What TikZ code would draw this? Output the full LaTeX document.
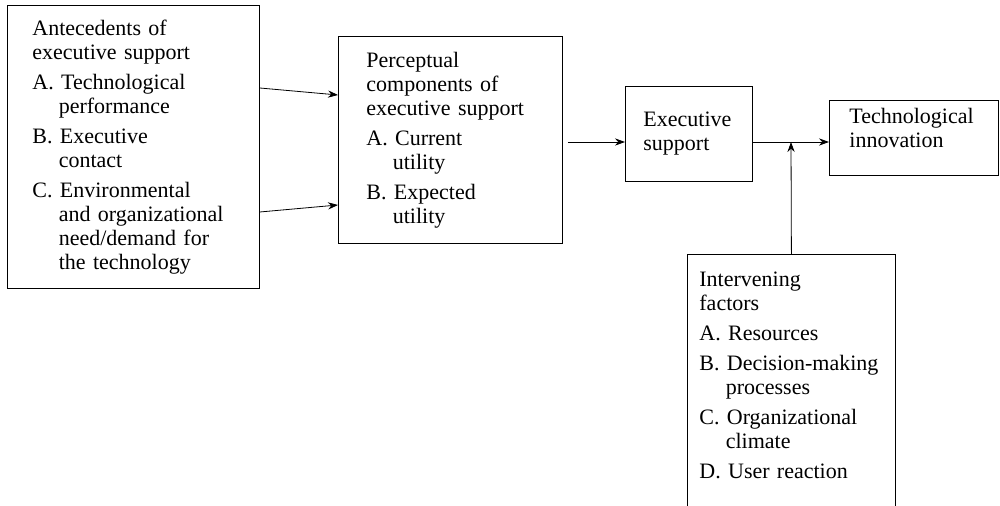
\documentclass[tikz,border=0pt]{standalone}
\usepackage{fontspec}
\setmainfont{Liberation Serif}
\usetikzlibrary{arrows.meta}

\newcommand{\ind}{\hspace*{1.2em}}

\begin{document}
\begin{tikzpicture}[
  x=0.5pt, y=-0.5pt,
  >={Stealth[length=5pt,width=3.6pt]},
  font=\fontsize{11}{12}\selectfont,
  box/.style={draw, thin, anchor=north west, align=left, inner xsep=0pt, inner ysep=0pt},
  arrow/.style={->, thin}
]
\useasboundingbox (0,0) rectangle (1000,506);

\node[box, minimum width=126pt, minimum height=141.5pt, text width=101pt] (ante) at (7,5)
{Antecedents of\\executive support\\[3pt]
 A. Technological\\\ind performance\\[3pt]
 B. Executive\\\ind contact\\[3pt]
 C. Environmental\\\ind and organizational\\\ind need/demand for\\\ind the technology};
\node[box, minimum width=112pt, minimum height=103.5pt, text width=84pt] (perc) at (338,36)
{Perceptual\\components of\\executive support\\[3pt]
 A. Current\\\ind utility\\[3pt]
 B. Expected\\\ind utility};
\node[box, minimum width=63.5pt, minimum height=47.5pt, text width=45.5pt] (exec) at (625,86)
{Executive\\support};
\node[box, minimum width=84.5pt, minimum height=37.5pt, text width=64.5pt] (tech) at (829,100)
{Technological\\innovation\rule[-10pt]{0pt}{0pt}};
\node[box, draw=none, minimum width=104pt, text width=92pt, inner ysep=9pt] (int) at (687,254)
{Intervening\\factors\\[3pt]
 A. Resources\\[3pt]
 B. Decision-making\\\ind processes\\[3pt]
 C. Organizational\\\ind climate\\[3pt]
 D. User reaction};

\coordinate (join) at (791,142);
\coordinate (bottom) at (0,506);

% open box, runs off the page
\draw[thin] (int.north west |- bottom) -- (int.north west) -- (int.north east) -- (int.north east |- bottom);

\draw[arrow] ([yshift=-41.5pt]ante.north east) -- ([yshift=-29.5pt]perc.north west);
\draw[arrow] ([yshift=-103.5pt]ante.north east) -- ([yshift=-84.5pt]perc.north west);
\draw[arrow] ([xshift=2.5pt]perc.east |- join) -- (exec.west |- join);
\draw[arrow] (exec.east |- join) -- (tech.west |- join);
\draw[arrow] (int.north) -- (join);
\end{tikzpicture}
\end{document}
